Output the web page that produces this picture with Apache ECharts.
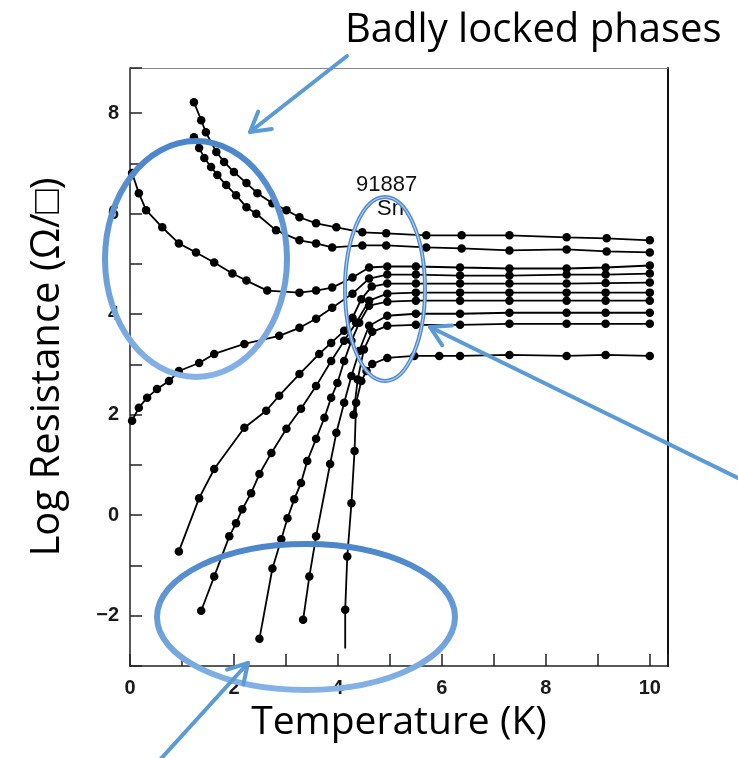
<!DOCTYPE html>
<html>
<head>
<meta charset="utf-8">
<script src="https://cdn.jsdelivr.net/npm/echarts@6/dist/echarts.min.js"></script>
<style>
  html, body { margin: 0; padding: 0; background: #fff; }
  #chart { width: 738px; height: 758px; }
</style>
</head>
<body>
<div id="chart"></div>
<script>
// Sheet resistance of quench-condensed Sn films vs temperature, [T (K), log R]
const film1 = [[1.23,8.22],[1.37,7.86],[1.46,7.62],[1.66,7.23],[1.81,7.03],[2.00,6.83],[2.24,6.61],[2.45,6.41],[2.74,6.21],[3.01,6.07],[3.26,5.93],[3.58,5.81],[3.97,5.73],[4.47,5.63],[4.93,5.61],[5.70,5.57],[6.38,5.57],[7.30,5.57],[8.40,5.53],[9.17,5.51],[10.0,5.47]];
const film2 = [[1.23,7.52],[1.33,7.31],[1.43,7.11],[1.56,6.93],[1.68,6.77],[1.85,6.57],[2.04,6.37],[2.24,6.13],[2.43,6.00],[2.81,5.67],[3.26,5.47],[3.58,5.41],[3.89,5.33],[4.47,5.37],[4.93,5.37],[5.70,5.33],[6.38,5.31],[7.30,5.27],[8.40,5.29],[9.17,5.25],[10.0,5.23]];
const film3 = [[0.04,6.81],[0.17,6.41],[0.31,6.07],[0.62,5.73],[0.94,5.41],[1.27,5.23],[1.62,5.03],[1.97,4.81],[2.24,4.67],[2.64,4.47],[3.26,4.43],[3.58,4.47],[3.89,4.53],[4.28,4.73],[4.60,4.93],[4.95,4.95],[5.50,4.95],[6.35,4.93],[7.30,4.91],[8.40,4.91],[9.15,4.93],[10.0,4.97]];
const film4 = [[0.04,1.88],[0.17,2.14],[0.33,2.34],[0.52,2.51],[0.75,2.67],[0.94,2.87],[1.33,3.03],[1.62,3.21],[2.20,3.41],[2.87,3.57],[3.26,3.73],[3.58,3.91],[3.89,4.13],[4.28,4.41],[4.60,4.71],[4.95,4.79],[5.50,4.79],[6.35,4.77],[7.30,4.77],[8.40,4.79],[9.15,4.79],[10.0,4.81]];
const film5 = [[0.94,-0.72],[1.33,0.34],[1.62,0.92],[2.20,1.74],[2.62,2.08],[2.87,2.38],[3.26,2.81],[3.64,3.21],[3.87,3.43],[4.12,3.67],[4.28,3.93],[4.45,4.30],[4.65,4.55],[4.95,4.61],[5.50,4.61],[6.35,4.61],[7.30,4.61],[8.40,4.61],[9.15,4.62],[10.0,4.63]];
const film6 = [[1.37,-1.90],[1.62,-1.22],[1.91,-0.42],[2.04,-0.16],[2.16,0.12],[2.33,0.44],[2.49,0.82],[2.72,1.24],[3.01,1.72],[3.29,2.12],[3.58,2.57],[3.87,3.07],[4.12,3.47],[4.35,3.83],[4.60,4.27],[4.95,4.41],[5.50,4.43],[6.35,4.43],[7.30,4.43],[8.40,4.43],[9.15,4.43],[10.0,4.43]];
const film7 = [[2.49,-2.46],[2.74,-1.06],[2.91,-0.48],[3.03,-0.06],[3.16,0.32],[3.29,0.64],[3.41,1.08],[3.58,1.52],[3.74,1.94],[3.87,2.34],[3.99,2.63],[4.12,3.07],[4.26,3.47],[4.41,3.83],[4.60,4.17],[4.95,4.25],[5.50,4.27],[6.35,4.27],[7.30,4.27],[8.40,4.27],[9.15,4.27],[10.0,4.27]];
const film8 = [[3.33,-2.08],[3.45,-1.22],[3.58,-0.42],[3.85,1.02],[3.97,1.64],[4.12,2.24],[4.26,2.77],[4.41,3.27],[4.60,3.77],[4.95,3.97],[5.50,4.01],[6.35,4.01],[7.30,4.03],[8.40,4.03],[9.15,4.03],[10.0,4.03]];
const film9 = [[4.30,2.00],[4.38,2.70],[4.50,3.30],[4.66,3.65],[4.95,3.77],[5.50,3.79],[6.35,3.79],[7.30,3.81],[8.40,3.81],[9.15,3.81],[10.0,3.81]];
const film10 = [[4.14,-2.65],[4.14,-1.88],[4.18,-0.82],[4.26,0.24],[4.32,1.28],[4.35,2.24],[4.45,2.67],[4.55,2.87],[4.66,3.01],[4.95,3.13],[5.47,3.17],[5.95,3.17],[6.35,3.17],[7.30,3.19],[8.40,3.17],[9.15,3.19],[10.0,3.17]];

const films = [film1, film2, film3, film4, film5, film6, film7, film8, film9, film10];
// the thickest film's trace runs on below the last measured point without a marker
const openEnded = { 9: [0] };

const tempTicks = [0, 2, 4, 6, 8, 10];
const logRTicks = [-2, 0, 2, 4, 6, 8];

const sampleLabel = ['91887', 'Sn'];
const xTitle = 'Temperature (K)';
const yTitle = 'Log Resistance (\u03A9/\u25A1)';
const headline = 'Badly locked phases';

const chart = echarts.init(document.getElementById('chart'), null, { renderer: 'canvas' });

const tickFont = { fontFamily: 'Liberation Sans', fontWeight: 'bold', fontSize: 20, color: '#1a1a1a' };

const seriesList = films.map((pts, i) => ({
  type: 'line',
  data: pts.map((p, j) => (openEnded[i] && openEnded[i].includes(j)) ? { value: p, symbol: 'none' } : p),
  symbol: 'circle',
  symbolSize: 8.5,
  showSymbol: true,
  lineStyle: { color: '#000', width: 1.8 },
  itemStyle: { color: '#000' },
  animation: false,
  silent: true,
  z: 2
}));

// arrow helper: shaft plus open chevron head
const BLUE = '#5b9bd5';
function arrow(tail, tip) {
  const dx = tail[0] - tip[0], dy = tail[1] - tip[1];
  const len = Math.hypot(dx, dy);
  const ux = dx / len, uy = dy / len;
  const a = Math.PI / 6, h = 22;
  const rot = (ang) => [tip[0] + h * (ux * Math.cos(ang) - uy * Math.sin(ang)),
                        tip[1] + h * (ux * Math.sin(ang) + uy * Math.cos(ang))];
  return [
    { type: 'line', z: 100, shape: { x1: tail[0], y1: tail[1], x2: tip[0], y2: tip[1] },
      style: { stroke: BLUE, lineWidth: 4, lineCap: 'round' } },
    { type: 'polyline', z: 100, shape: { points: [rot(a), tip, rot(-a)] },
      style: { stroke: BLUE, lineWidth: 4, lineCap: 'round', lineJoin: 'round', fill: null } }
  ];
}

const ringGrad = {
  type: 'linear', x: 0, y: 0, x2: 0, y2: 1,
  colorStops: [{ offset: 0, color: '#4a85c8' }, { offset: 1, color: '#86b3e6' }]
};

const graphics = [
  { type: 'text', z: 100, left: 345, top: 11,
    style: { text: headline, font: '40px "Open Sans"', fill: '#000' } },
  { type: 'text', z: 50, left: 356, top: 174,
    style: { text: sampleLabel[0], font: '22px "Liberation Sans"', fill: '#111' } },
  { type: 'text', z: 50, left: 377, top: 198,
    style: { text: sampleLabel[1], font: '22px "Liberation Sans"', fill: '#111' } },
  { type: 'ellipse', z: 100, shape: { cx: 196, cy: 259, rx: 91, ry: 118 },
    style: { stroke: ringGrad, lineWidth: 6, fill: null } },
  { type: 'ellipse', z: 100, shape: { cx: 385, cy: 289, rx: 40, ry: 92 },
    style: { stroke: '#4f8ad0', lineWidth: 4, fill: null } },
  { type: 'ellipse', z: 101, shape: { cx: 385, cy: 289, rx: 40, ry: 92 },
    style: { stroke: '#b5d0ef', lineWidth: 1.2, fill: null } },
  { type: 'ellipse', z: 100, shape: { cx: 306, cy: 617, rx: 149, ry: 73 },
    style: { stroke: ringGrad, lineWidth: 6, fill: null } }
].concat(arrow([347, 56], [250, 132]))
 .concat(arrow([742, 480], [430, 327]))
 .concat(arrow([158, 762], [248, 663]));

chart.setOption({
  animation: false,
  backgroundColor: '#fff',
  grid: { left: 130, right: 70, top: 68, bottom: 92, containLabel: false },
  xAxis: [{
    type: 'value', min: 0, max: 10.35, interval: 1,
    name: xTitle, nameLocation: 'middle', nameGap: 28,
    nameTextStyle: { fontFamily: 'Open Sans', fontSize: 39, color: '#000' },
    axisLine: { show: true, onZero: false, lineStyle: { color: '#222', width: 1.5 } },
    axisTick: { show: true, inside: true, length: 12, lineStyle: { color: '#222', width: 1.5 } },
    axisLabel: { ...tickFont, margin: 12,
      formatter: v => tempTicks.includes(Math.round(v)) && Math.abs(v - Math.round(v)) < 1e-6 ? String(Math.round(v)) : '' },
    splitLine: { show: false }
  }, {
    type: 'value', position: 'top', min: 0, max: 10.35,
    axisLine: { show: true, onZero: false, lineStyle: { color: '#888', width: 1 } },
    axisTick: { show: false }, axisLabel: { show: false }, splitLine: { show: false }
  }],
  yAxis: [{
    type: 'value', min: -3, max: 8.9, interval: 1,
    name: yTitle, nameLocation: 'middle', nameGap: 62, nameRotate: 90,
    nameTextStyle: { fontFamily: 'Open Sans', fontSize: 40, color: '#000' },
    axisLine: { show: true, onZero: false, lineStyle: { color: '#222', width: 1.5 } },
    axisTick: { show: true, inside: true, length: 12, lineStyle: { color: '#222', width: 1.5 } },
    axisLabel: { ...tickFont, margin: 11,
      formatter: v => logRTicks.includes(Math.round(v)) && Math.abs(v - Math.round(v)) < 1e-6 ? String(Math.round(v)).replace('-', '\u2212') : '' },
    splitLine: { show: false }
  }, {
    type: 'value', position: 'right', min: -3, max: 8.9,
    axisLine: { show: true, onZero: false, lineStyle: { color: '#111', width: 2 } },
    axisTick: { show: false }, axisLabel: { show: false }, splitLine: { show: false }
  }],
  series: seriesList,
  graphic: graphics
});
</script>
</body>
</html>
